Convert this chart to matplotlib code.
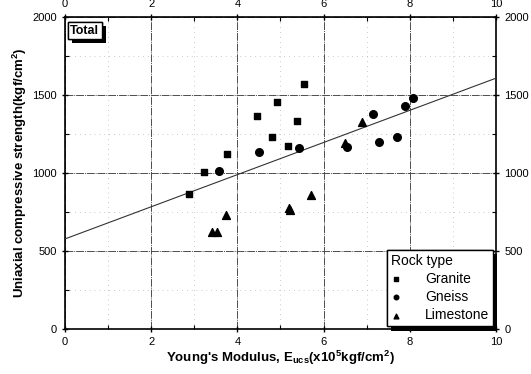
import matplotlib
matplotlib.use("Agg")
import matplotlib.pyplot as plt
import matplotlib.patheffects as pe
import numpy as np

plt.rcParams["font.family"] = ["Liberation Sans", "DejaVu Sans"]

# Young's modulus (x10^5 kgf/cm^2) and UCS (kgf/cm^2)
granite_e = [2.87, 3.23, 3.75, 4.46, 4.80, 4.93, 5.18, 5.39, 5.54]
granite_ucs = [867, 1008, 1122, 1367, 1228, 1453, 1175, 1331, 1568]
gneiss_e = [3.57, 4.50, 5.43, 6.54, 7.14, 7.29, 7.71, 7.90, 8.07]
gneiss_ucs = [1015, 1133, 1162, 1165, 1380, 1201, 1229, 1429, 1478]
limestone_e = [3.40, 3.52, 3.74, 5.20, 5.23, 5.70, 6.50, 6.89]
limestone_ucs = [624, 622, 733, 775, 765, 858, 1192, 1327]

# regression line for all rock types
fit_intercept = 578
fit_slope = 103

x_ticks = [0, 2, 4, 6, 8, 10]
y_ticks = [0, 500, 1000, 1500, 2000]

fig = plt.figure(figsize=(5.31, 3.74), dpi=100)
ax = fig.add_axes([0.1224, 0.120, 0.8116, 0.8345])

ax.set_xlim(0, 10)
ax.set_ylim(0, 2000)
ax.set_xticks(x_ticks)
ax.set_yticks(y_ticks)
ax.set_xticks(np.arange(1, 10, 2), minor=True)
ax.set_yticks(np.arange(250, 2000, 500), minor=True)

ax.grid(True, which="major", color="0.3", linewidth=0.7, linestyle=(0, (8, 1, 1, 1)))
ax.grid(True, which="minor", color="0.6", linewidth=0.5, linestyle=(0, (1, 6)))

fit_x = np.array([0, 10])
ax.plot(fit_x, fit_intercept + fit_slope * fit_x, color="0.2", linewidth=0.8, zorder=3)

ax.scatter(granite_e, granite_ucs, marker="s", s=24, color="black", label="Granite", zorder=4)
ax.scatter(gneiss_e, gneiss_ucs, marker="o", s=30, color="black", label="Gneiss", zorder=4)
ax.scatter(limestone_e, limestone_ucs, marker="^", s=32, color="black", label="Limestone", zorder=4)

for side in ax.spines.values():
    side.set_linewidth(1.2)
ax.tick_params(which="major", direction="inout", length=5, width=1, labelsize=8,
               top=True, right=True, labeltop=True, labelright=True)
ax.tick_params(which="minor", direction="in", length=3, width=0.8, top=True, right=True)

ax.set_xlabel("Young's Modulus, E$_{\\mathregular{ucs}}$(x10$^{\\mathregular{5}}$kgf/cm$^{\\mathregular{2}}$)",
              fontsize=9.5, fontweight="bold", labelpad=1)
ax.set_ylabel("Uniaxial compressive strength(kgf/cm$^{\\mathregular{2}}$)",
              fontsize=9.5, fontweight="bold", labelpad=2)

shadow = [pe.withSimplePatchShadow(offset=(3, -3), shadow_rgbFace="black", alpha=1), pe.Normal()]

total = ax.text(0.012, 0.975, "Total", transform=ax.transAxes, fontsize=9, fontweight="bold",
                va="top", ha="left", zorder=6,
                bbox=dict(boxstyle="square,pad=0.2", facecolor="white", edgecolor="black", linewidth=1))
total.get_bbox_patch().set_path_effects(shadow)

leg = ax.legend(loc="lower right", title="Rock type", fontsize=10, title_fontsize=10,
                frameon=True, fancybox=False, edgecolor="black", framealpha=1,
                borderaxespad=0.2, handletextpad=1.8, labelspacing=0.3, handlelength=0.6,
                borderpad=0.3, markerscale=0.6, alignment="left")
leg.get_frame().set_linewidth(1)
leg.get_frame().set_path_effects(shadow)
leg.set_zorder(6)

fig.savefig("out.png", dpi=100)
